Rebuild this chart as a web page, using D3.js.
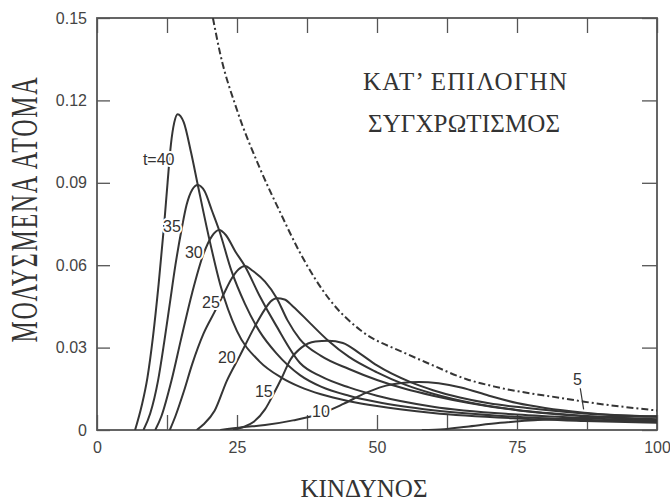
<!DOCTYPE html>
<html>
<head>
<meta charset="utf-8">
<script src="https://cdn.jsdelivr.net/npm/d3@7"></script>
<style>
  body { margin: 0; background: #fff; }
  svg { display: block; }
  .tick text { font-family: "Liberation Sans", Arial, sans-serif; font-size: 16px; fill: #444; }
  .tick line { stroke: #555; stroke-width: 1.3; }
  .greek { font-family: "Liberation Serif", "Times New Roman", serif; fill: #333; }
  .lbl { font-family: "Liberation Sans", Arial, sans-serif; font-size: 16px; fill: #333;
         stroke: #fff; stroke-width: 4px; paint-order: stroke; }
</style>
</head>
<body>
<svg width="670" height="501"></svg>
<script>
// curves for each t (risk on x, infected on y)
const t40x = [6.8, 8, 9, 10, 11, 12, 12.6, 13.2, 13.8, 14.4, 15.5, 16.8, 18, 20, 22, 25, 29, 33, 36.25, 40, 45, 50, 60, 75, 87, 100];
const t40y = [0, 0.009, 0.019, 0.034, 0.053, 0.075, 0.090, 0.104, 0.112, 0.115, 0.112, 0.101, 0.0892, 0.070, 0.053, 0.036, 0.025, 0.019, 0.0157, 0.013, 0.0105, 0.0087, 0.0062, 0.0042, 0.0033, 0.0026];

const t35x = [8.3, 9.5, 10.9, 12, 13, 14, 15.1, 16, 17, 18, 19.2, 20.5, 21.8, 24, 26.4, 29, 32, 36.25, 40, 45, 50, 60, 75, 87, 100];
const t35y = [0, 0.006, 0.018, 0.032, 0.046, 0.060, 0.073, 0.082, 0.0875, 0.0892, 0.087, 0.080, 0.0728, 0.058, 0.046, 0.036, 0.028, 0.020, 0.0158, 0.0125, 0.0102, 0.0072, 0.0048, 0.0037, 0.003];

const t30x = [10.4, 11.5, 13.3, 15, 17, 19, 20.5, 21.8, 23, 24.7, 26.4, 29, 32, 36.25, 40, 45, 50, 60, 75, 87, 100];
const t30y = [0, 0.005, 0.018, 0.033, 0.050, 0.064, 0.0705, 0.0728, 0.071, 0.065, 0.0597, 0.049, 0.038, 0.0244, 0.0195, 0.0155, 0.0125, 0.0085, 0.0056, 0.0043, 0.0033];

const t25x = [13, 14, 15.5, 17, 19, 21, 22.5, 24, 25.3, 26.4, 27.8, 30, 32.1, 34, 36.25, 40, 45, 50, 55, 60, 75, 87, 100];
const t25y = [0, 0.005, 0.014, 0.024, 0.035, 0.043, 0.049, 0.055, 0.0585, 0.0597, 0.058, 0.054, 0.048, 0.040, 0.033, 0.027, 0.0222, 0.0182, 0.015, 0.0125, 0.0072, 0.005, 0.0037];

const t20x = [17.8, 19, 21, 23.2, 25.5, 28, 30, 31, 32.1, 33.5, 35, 38, 41.3, 45, 50, 55, 60, 67, 75, 87, 100];
const t20y = [0, 0.002, 0.007, 0.018, 0.027, 0.037, 0.044, 0.0468, 0.048, 0.0475, 0.045, 0.039, 0.0325, 0.0266, 0.021, 0.0165, 0.0132, 0.0098, 0.0073, 0.0052, 0.0039];

const t15x = [24.3, 26, 28, 30, 31.5, 33, 34.5, 36.5, 39, 41.3, 43.9, 46.9, 50, 55.9, 60, 64.8, 70, 76.8, 87, 100];
const t15y = [0, 0.001, 0.003, 0.0075, 0.013, 0.019, 0.0255, 0.030, 0.0322, 0.0325, 0.0317, 0.0279, 0.0235, 0.0175, 0.0145, 0.0118, 0.0097, 0.008, 0.006, 0.0049];

const t10x = [22, 26, 30, 35, 40, 44, 48, 51, 54, 57.5, 61, 65, 70, 75, 80, 87, 100];
const t10y = [0, 0.001, 0.0018, 0.0035, 0.006, 0.0095, 0.0135, 0.0158, 0.017, 0.0175, 0.017, 0.0155, 0.0125, 0.0098, 0.008, 0.0063, 0.0048];

const t5x = [58, 62, 66, 72, 80, 87, 93, 100];
const t5y = [0, 0.0003, 0.0012, 0.0026, 0.0038, 0.0045, 0.0048, 0.005];

// dash-dot envelope
const envX = [20.7, 22, 25, 29, 33, 36, 41.6, 47, 55, 59, 66, 71, 83, 87, 100];
const envY = [0.15, 0.137, 0.1165, 0.0957, 0.078, 0.0655, 0.0473, 0.0364, 0.028, 0.0244, 0.0185, 0.0158, 0.0116, 0.0103, 0.0071];

const curveNames = ["t=40", "35", "30", "25", "20", "15", "10", "5"];
const labelX = [8.2, 11.8, 15.7, 18.75, 21.6, 28.2, 38.4, 85.0];
const labelY = [0.0965, 0.0721, 0.0626, 0.0444, 0.0244, 0.0120, 0.0047, 0.0164];

const xTicks = [0, 12.5, 25, 37.5, 50, 62.5, 75, 87.5, 100];
const yTicks = [0, 0.03, 0.06, 0.09, 0.12, 0.15];

const svg = d3.select("svg");
const plotLeft = 97, plotRight = 657, plotTop = 18, plotBottom = 430;

const x = d3.scaleLinear().domain([0, 100]).range([plotLeft, plotRight]);
const y = d3.scaleLinear().domain([0, 0.15]).range([plotBottom, plotTop]);

svg.append("defs").append("clipPath").attr("id", "plotclip")
  .append("rect").attr("x", plotLeft).attr("y", plotTop)
  .attr("width", plotRight - plotLeft).attr("height", plotBottom - plotTop);

// axes with inward ticks
svg.append("g").attr("transform", `translate(0,${plotBottom})`)
  .call(d3.axisBottom(x).tickValues(xTicks).tickSizeInner(-15).tickSizeOuter(0).tickPadding(12)
    .tickFormat(d => d % 25 === 0 ? d : ""))
  .call(g => g.select(".domain").remove());

svg.append("g").attr("transform", `translate(0,${plotTop})`)
  .call(d3.axisTop(x).tickValues(xTicks).tickSizeInner(-15).tickSizeOuter(0).tickFormat(""))
  .call(g => g.select(".domain").remove());

svg.append("g").attr("transform", `translate(${plotLeft},0)`)
  .call(d3.axisLeft(y).tickValues(yTicks).tickSizeInner(-13).tickSizeOuter(0).tickPadding(10)
    .tickFormat(d => d === 0 ? "0" : d.toFixed(2)))
  .call(g => g.select(".domain").remove());

svg.append("g").attr("transform", `translate(${plotRight},0)`)
  .call(d3.axisRight(y).tickValues(yTicks).tickSizeInner(-15).tickSizeOuter(0).tickFormat(""))
  .call(g => g.select(".domain").remove());

svg.append("rect")
  .attr("x", plotLeft).attr("y", plotTop)
  .attr("width", plotRight - plotLeft).attr("height", plotBottom - plotTop)
  .attr("fill", "none").attr("stroke", "#555").attr("stroke-width", 1.8);

const line = d3.line()
  .x(d => x(d[0]))
  .y(d => y(d[1]))
  .curve(d3.curveMonotoneX);

const series = [
  [t40x, t40y], [t35x, t35y], [t30x, t30y], [t25x, t25y],
  [t20x, t20y], [t15x, t15y], [t10x, t10y], [t5x, t5y]
];

const plot = svg.append("g").attr("clip-path", "url(#plotclip)");

plot.selectAll("path.curve")
  .data(series)
  .enter().append("path")
  .attr("class", "curve")
  .attr("d", s => line(d3.zip(s[0], s[1])))
  .attr("fill", "none")
  .attr("stroke", "#353535")
  .attr("stroke-width", 2);

plot.append("path")
  .attr("d", line(d3.zip(envX, envY)))
  .attr("fill", "none")
  .attr("stroke", "#353535")
  .attr("stroke-width", 2)
  .attr("stroke-dasharray", "7,3,2,3");

// curve labels
svg.selectAll("text.lbl")
  .data(curveNames)
  .enter().append("text")
  .attr("class", "lbl")
  .attr("x", (d, i) => x(labelX[i]))
  .attr("y", (d, i) => y(labelY[i]))
  .text(d => d);

// leader for the t=5 label
svg.append("line")
  .attr("x1", x(86.3)).attr("y1", y(0.0152))
  .attr("x2", x(86.9)).attr("y2", y(0.0075))
  .attr("stroke", "#353535").attr("stroke-width", 1.2);

// titles
svg.append("text").attr("class", "greek")
  .attr("x", 363).attr("y", 90)
  .attr("textLength", 204).attr("lengthAdjust", "spacing")
  .style("font-size", "25px")
  .text("ΚΑΤ’ ΕΠΙΛΟΓΗΝ");

svg.append("text").attr("class", "greek")
  .attr("x", 368).attr("y", 132)
  .attr("textLength", 192).attr("lengthAdjust", "spacing")
  .style("font-size", "25px")
  .text("ΣΥΓΧΡΩΤΙΣΜΟΣ");

svg.append("text").attr("class", "greek")
  .attr("x", 364).attr("y", 497)
  .attr("text-anchor", "middle")
  .style("font-size", "25px")
  .text("ΚΙΝΔΥΝΟΣ");

svg.append("text").attr("class", "greek")
  .attr("transform", "translate(37,210) rotate(-90) scale(1,1.55)")
  .attr("text-anchor", "middle")
  .attr("textLength", 265).attr("lengthAdjust", "spacing")
  .style("font-size", "24px")
  .text("ΜΟΛΥΣΜΕΝΑ  ΑΤΟΜΑ");
</script>
</body>
</html>
